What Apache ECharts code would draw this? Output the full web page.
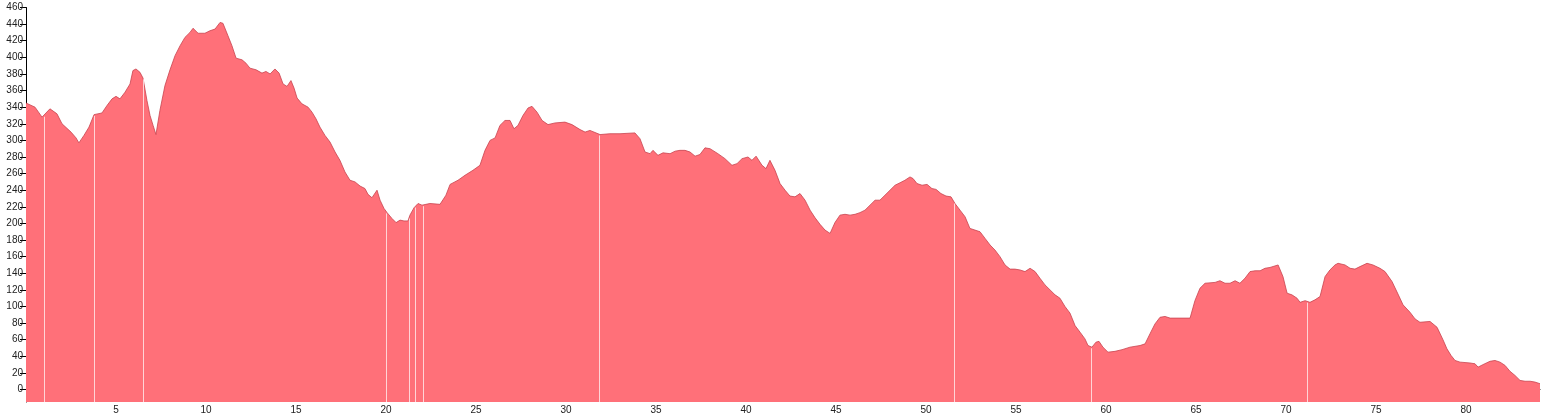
<!DOCTYPE html>
<html><head><meta charset="utf-8">
<script src="https://cdn.jsdelivr.net/npm/echarts@6/dist/echarts.min.js"></script>
<style>html,body{margin:0;padding:0;background:#fff}#c{width:1542px;height:418px}</style>
</head><body><div id="c"></div>
<script>
// distance (km)
const distKm = [0.00,0.50,0.89,1.00,1.33,1.72,2.00,2.50,2.78,2.94,3.22,3.50,3.78,4.22,4.50,4.78,5.00,5.22,5.50,5.78,5.94,6.11,6.33,6.50,6.72,6.89,7.06,7.22,7.44,7.72,8.00,8.28,8.56,8.83,9.11,9.28,9.56,9.94,10.22,10.50,10.78,10.94,11.22,11.44,11.67,12.00,12.22,12.44,12.78,13.11,13.33,13.56,13.83,14.06,14.28,14.50,14.72,14.89,15.06,15.33,15.67,15.89,16.11,16.33,16.61,16.89,17.17,17.44,17.72,18.00,18.28,18.56,18.83,19.00,19.22,19.50,19.67,19.89,20.06,20.33,20.56,20.78,21.00,21.22,21.33,21.56,21.78,22.00,22.22,22.44,23.00,23.33,23.56,24.00,24.39,24.83,25.22,25.50,25.78,26.06,26.33,26.61,26.89,27.11,27.33,27.61,27.89,28.11,28.39,28.67,29.00,29.39,29.94,30.33,30.78,31.06,31.33,31.89,32.44,33.00,33.83,34.11,34.39,34.67,34.83,35.11,35.39,35.78,36.06,36.33,36.61,36.89,37.17,37.44,37.72,38.00,38.44,38.83,39.22,39.50,39.78,40.11,40.33,40.56,40.89,41.11,41.33,41.61,41.89,42.17,42.44,42.72,43.00,43.28,43.56,43.83,44.11,44.39,44.67,44.94,45.22,45.50,45.78,46.06,46.33,46.61,46.89,47.17,47.44,47.72,48.00,48.28,48.56,48.83,49.11,49.28,49.50,49.78,50.06,50.33,50.56,50.83,51.11,51.39,51.61,51.89,52.17,52.44,52.72,53.00,53.28,53.56,53.83,54.11,54.39,54.67,54.94,55.22,55.50,55.78,56.06,56.33,56.61,56.89,57.17,57.44,57.72,58.00,58.28,58.56,58.83,59.00,59.22,59.44,59.61,59.83,60.11,60.50,60.89,61.33,61.89,62.17,62.44,62.72,63.00,63.28,63.56,64.11,64.67,64.94,65.22,65.50,66.06,66.33,66.61,66.89,67.17,67.44,67.72,68.00,68.28,68.56,68.83,69.11,69.56,69.83,70.06,70.33,70.61,70.78,71.06,71.33,71.61,71.89,72.17,72.44,72.72,72.89,73.28,73.56,73.83,74.11,74.50,74.83,75.22,75.50,75.89,76.22,76.50,76.89,77.17,77.44,78.00,78.39,78.72,78.94,79.17,79.39,79.67,80.22,80.50,80.67,80.94,81.33,81.61,81.89,82.17,82.44,82.72,83.00,83.28,83.56,83.83,84.11];
// elevation (m)
const elevation = [345,340,328,330,338,332,320,310,303,297,306,316,331,333,342,350,353,350,358,368,384,386,382,375,348,330,318,307,336,366,385,402,414,424,430,435,429,429,432,434,442,441,426,414,399,397,393,387,385,381,383,380,386,381,368,365,372,363,351,344,340,334,326,316,306,298,286,276,262,252,250,245,242,235,231,240,228,218,213,206,201,204,203,203,210,219,224,222,223,224,223,234,247,252,258,264,270,288,300,303,318,324,324,314,318,330,339,341,334,324,319,321,322,319,313,310,312,307,308,308,309,302,286,284,288,282,285,284,287,288,288,286,281,283,291,290,284,278,270,272,278,280,276,281,270,266,276,264,248,240,233,232,236,228,216,207,199,192,188,201,210,211,210,211,213,216,222,228,228,234,240,246,249,252,256,254,248,246,247,242,241,236,233,232,224,216,208,194,192,190,182,174,168,160,150,145,145,144,142,146,142,134,126,120,114,110,100,92,77,69,61,53,51,57,58,51,45,46,48,51,53,55,67,79,87,88,86,86,86,107,122,128,129,131,128,128,131,128,134,142,143,143,146,147,150,136,116,114,110,105,107,105,108,112,136,144,150,152,150,146,145,148,152,150,146,142,130,115,102,93,85,81,82,75,60,49,41,35,33,32,31,27,30,34,35,33,29,22,17,11,10,10,9,7];
// light seams visible in the fill (km)
const seamKm = [1.0,3.78,6.5,20.04,21.29,21.63,22.06,31.85,51.57,59.2,71.18];
const yTicks = [0,20,40,60,80,100,120,140,160,180,200,220,240,260,280,300,320,340,360,380,400,420,440,460];
const xTicks = [5,10,15,20,25,30,35,40,45,50,55,60,65,70,75,80];

const Y_MIN = -15, Y_MAX = 460, X_MAX = distKm[distKm.length-1];
function elevAt(k){
  for(let i=1;i<distKm.length;i++){
    if(distKm[i]>=k){const t=(k-distKm[i-1])/(distKm[i]-distKm[i-1]);return elevation[i-1]+t*(elevation[i]-elevation[i-1]);}
  }
  return elevation[elevation.length-1];
}
const data = distKm.map((d,i)=>[d,elevation[i]]);
const seams = seamKm.map(k=>[{coord:[k,elevAt(k)-1.5]},{coord:[k,Y_MIN]}]);

const chart = echarts.init(document.getElementById('c'));
const font = {fontFamily:'"Liberation Sans", Arial, sans-serif', fontSize:10, color:'#222'};
chart.setOption({
  animation:false,
  grid:{left:26,right:2,top:7.5,bottom:16,containLabel:false,outerBoundsMode:'none'},
  xAxis:{type:'value',min:0,max:X_MAX,interval:5,
    axisLine:{show:true,lineStyle:{color:'#000',width:1}},
    axisTick:{show:true,length:5,lineStyle:{color:'#000'},customValues:xTicks},
    axisLabel:Object.assign({margin:3,customValues:xTicks},font),
    splitLine:{show:false}},
  yAxis:{type:'value',min:Y_MIN,max:Y_MAX,
    axisLine:{show:true,lineStyle:{color:'#000',width:1}},
    axisTick:{show:true,length:6,lineStyle:{color:'#000'},customValues:yTicks},
    axisLabel:Object.assign({margin:3,customValues:yTicks},font),
    splitLine:{show:false}},
  series:[{
    type:'line',data:data,symbol:'none',smooth:false,
    lineStyle:{color:'#c8434e',width:0.8},
    areaStyle:{color:'#ff7079',opacity:1,origin:'start'},
    z:2,
    markLine:{silent:true,symbol:['none','none'],label:{show:false},
      lineStyle:{color:'rgba(255,255,255,0.7)',width:1,type:'solid'},
      data:seams}
  }]
});
</script></body></html>
